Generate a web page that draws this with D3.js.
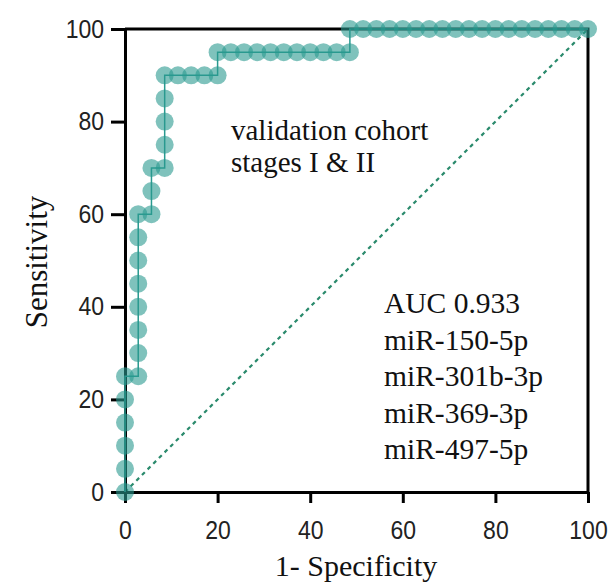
<!DOCTYPE html>
<html>
<head>
<meta charset="utf-8">
<script src="https://cdn.jsdelivr.net/npm/d3@7"></script>
<style>
  html, body { margin: 0; padding: 0; background: #fff; }
  svg { display: block; }
</style>
</head>
<body>
<svg id="chart" width="614" height="585"></svg>
<script>
// ROC curve points: 1 - specificity (%) and sensitivity (%)
const oneMinusSpecificity = [
  0, 0, 0, 0, 0, 0,
  2.857, 2.857, 2.857, 2.857, 2.857, 2.857, 2.857, 2.857,
  5.714, 5.714, 5.714,
  8.571, 8.571, 8.571, 8.571, 8.571,
  11.43, 14.29, 17.14,
  20.00, 20.00,
  22.86, 25.71, 28.57, 31.43, 34.29, 37.14, 40.00, 42.86, 45.71, 48.57,
  48.57, 51.43, 54.29, 57.14, 60.00, 62.86, 65.71, 68.57, 71.43, 74.29,
  77.14, 80.00, 82.86, 85.71, 88.57, 91.43, 94.29, 97.14, 100
];
const sensitivity = [
  0, 5, 10, 15, 20, 25,
  25, 30, 35, 40, 45, 50, 55, 60,
  60, 65, 70,
  70, 75, 80, 85, 90,
  90, 90, 90,
  90, 95,
  95, 95, 95, 95, 95, 95, 95, 95, 95, 95,
  100, 100, 100, 100, 100, 100, 100, 100, 100, 100,
  100, 100, 100, 100, 100, 100, 100, 100, 100
];
const tickValues = [0, 20, 40, 60, 80, 100];
const chanceLine = [[0, 0], [100, 100]];
const annotationTop = ["validation cohort", "stages I & II"];
const annotationBottom = ["AUC 0.933", "miR-150-5p", "miR-301b-3p", "miR-369-3p", "miR-497-5p"];

const svg = d3.select("#chart");
const x = d3.scaleLinear().domain([0, 100]).range([125, 588]);
const y = d3.scaleLinear().domain([0, 100]).range([492, 29]);

const teal = "#2a9a90";
const sansFont = "'Liberation Sans', Arial, sans-serif";
const serifFont = "'Liberation Serif', 'Times New Roman', serif";

// chance diagonal
svg.append("path")
  .datum(chanceLine)
  .attr("d", d3.line().x(d => x(d[0])).y(d => y(d[1])))
  .attr("fill", "none")
  .attr("stroke", "#2a8a6c")
  .attr("stroke-width", 2.2)
  .attr("stroke-dasharray", "4,4");

// top and right frame
svg.append("path")
  .attr("d", `M${x(0)},${y(100)}H${x(100)}V${y(0)}`)
  .attr("fill", "none")
  .attr("stroke", "#000")
  .attr("stroke-width", 3);

// x axis
const xAxis = svg.append("g")
  .attr("transform", `translate(0,${y(0)})`)
  .call(d3.axisBottom(x).tickValues(tickValues).tickSize(11).tickSizeOuter(0).tickFormat(d3.format("d")));
// y axis
const yAxis = svg.append("g")
  .attr("transform", `translate(${x(0)},0)`)
  .call(d3.axisLeft(y).tickValues(tickValues).tickSize(14).tickSizeOuter(0).tickFormat(d3.format("d")));

[xAxis, yAxis].forEach(g => {
  g.select(".domain").attr("stroke", "#000").attr("stroke-width", 3);
  g.selectAll(".tick line").attr("stroke", "#000").attr("stroke-width", 3);
  g.selectAll(".tick text")
    .attr("fill", "#222")
    .style("font-family", sansFont)
    .style("font-size", "23px");
});
xAxis.selectAll(".tick text").attr("y", 0).attr("dy", 0)
  .attr("transform", "translate(0,47) scale(1,1.1)");
yAxis.selectAll(".tick text").attr("x", 0).attr("dy", 0)
  .attr("transform", "translate(-21,8) scale(1,1.1)");

// step line joining the ROC points
const pts = oneMinusSpecificity.map((v, i) => [v, sensitivity[i]]);
svg.append("path")
  .datum(pts)
  .attr("d", d3.line().x(d => x(d[0])).y(d => y(d[1])))
  .attr("fill", "none")
  .attr("stroke", teal)
  .attr("stroke-width", 1.5);

// ROC points
svg.append("g")
  .selectAll("circle")
  .data(pts)
  .join("circle")
  .attr("cx", d => x(d[0]))
  .attr("cy", d => y(d[1]))
  .attr("r", 9)
  .attr("fill", teal)
  .attr("fill-opacity", 0.6);

// annotations
svg.append("g")
  .selectAll("text")
  .data(annotationTop)
  .join("text")
  .attr("x", 231)
  .attr("y", (d, i) => 140 + i * 32)
  .style("font-family", serifFont)
  .style("font-size", "29px")
  .attr("fill", "#111")
  .text(d => d);

svg.append("g")
  .selectAll("text")
  .data(annotationBottom)
  .join("text")
  .attr("x", 384)
  .attr("y", (d, i) => 313 + i * 36.5)
  .style("font-family", serifFont)
  .style("font-size", "29.5px")
  .attr("fill", "#111")
  .text(d => d);

// axis titles
svg.append("text")
  .attr("transform", "translate(47,262) rotate(-90)")
  .attr("text-anchor", "middle")
  .style("font-family", serifFont)
  .style("font-size", "31px")
  .attr("fill", "#111")
  .text("Sensitivity");

svg.append("text")
  .attr("x", 356)
  .attr("y", 576)
  .attr("text-anchor", "middle")
  .style("font-family", serifFont)
  .style("font-size", "30px")
  .attr("fill", "#111")
  .text("1- Specificity");
</script>
</body>
</html>
